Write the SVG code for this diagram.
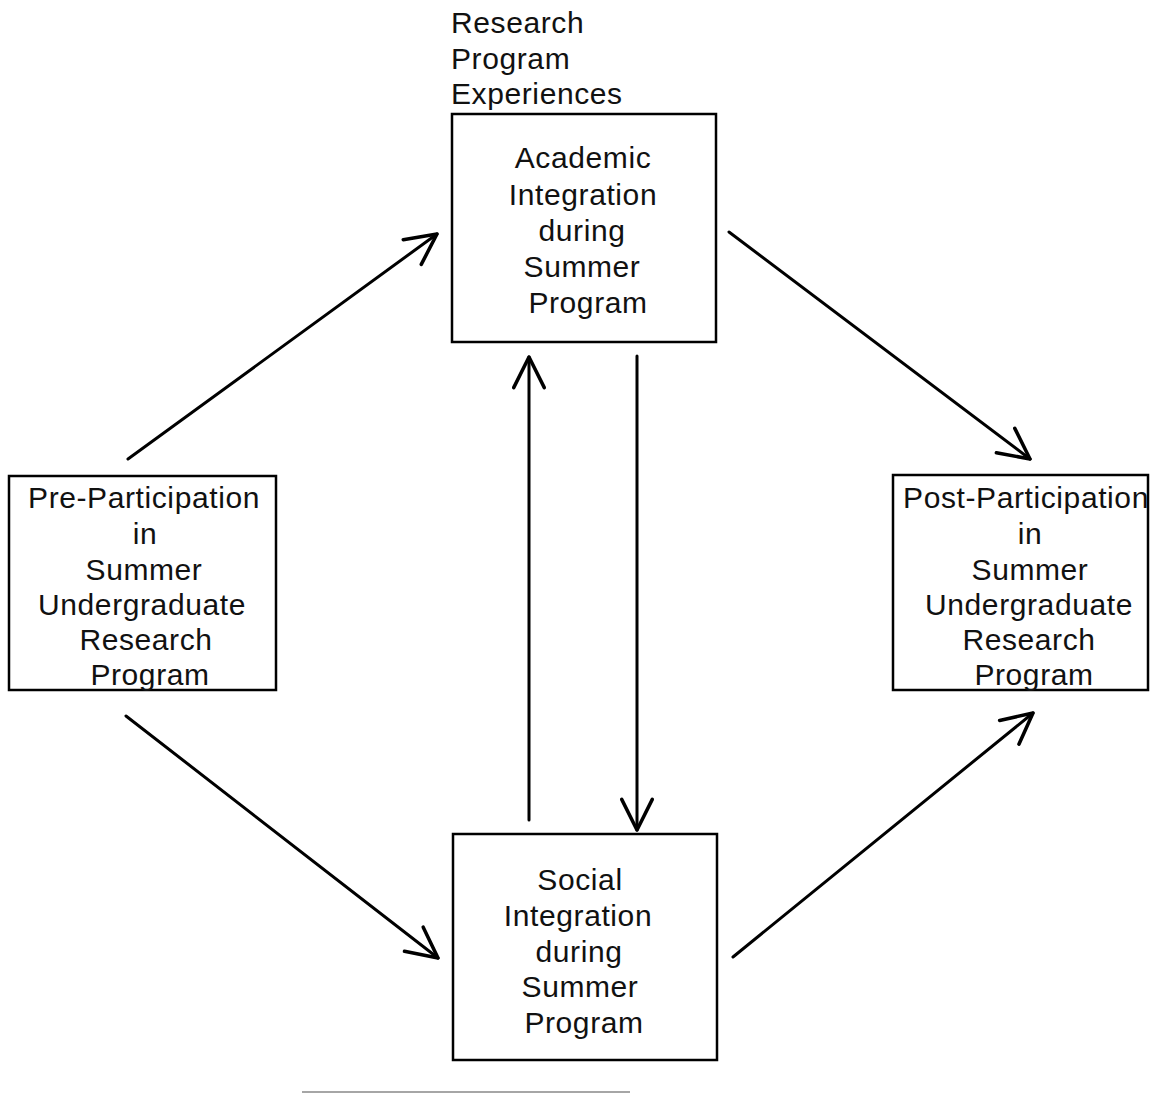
<svg xmlns="http://www.w3.org/2000/svg" width="1159" height="1093" viewBox="0 0 1159 1093">
<style>
.box{fill:#fff;stroke:#000;stroke-width:2.5}
.t{font-family:"Liberation Sans",Arial,sans-serif;font-size:30px;letter-spacing:0.6px;fill:#111;text-anchor:middle}
.lbl{font-family:"Liberation Sans",Arial,sans-serif;font-size:30px;letter-spacing:0.6px;fill:#111}
.c{stroke:#000;stroke-width:3;fill:none;stroke-linecap:round}
</style>
<defs>
<marker id="ah" markerUnits="userSpaceOnUse" markerWidth="40" markerHeight="40" viewBox="-30 -17 34 34" refX="0" refY="0" orient="auto">
<path d="M-26,-13 L0,0 L-26,13" fill="none" stroke="#000" stroke-width="3" stroke-linecap="round" stroke-linejoin="round"/>
</marker>
</defs>
<rect width="1159" height="1093" fill="#fff"/>
<g id="label-rpe">
<text class="lbl" x="451" y="33">Research</text>
<text class="lbl" x="451" y="69">Program</text>
<text class="lbl" x="451" y="104">Experiences</text>
</g>
<g id="academic">
<rect class="box" x="452" y="114" width="264" height="228"/>
<text class="t" x="583" y="168">Academic</text>
<text class="t" x="583" y="205">Integration</text>
<text class="t" x="582" y="241">during</text>
<text class="t" x="582" y="277">Summer</text>
<text class="t" x="588" y="313">Program</text>
</g>
<g id="pre">
<rect class="box" x="9" y="476" width="267" height="214"/>
<text class="t" x="144" y="508">Pre-Participation</text>
<text class="t" x="145" y="544">in</text>
<text class="t" x="144" y="580">Summer</text>
<text class="t" x="142" y="615">Undergraduate</text>
<text class="t" x="146" y="650">Research</text>
<text class="t" x="150" y="685">Program</text>
</g>
<g id="post">
<rect class="box" x="893" y="475" width="255" height="215"/>
<text class="t" x="1026" y="508">Post-Participation</text>
<text class="t" x="1030" y="544">in</text>
<text class="t" x="1030" y="580">Summer</text>
<text class="t" x="1029" y="615">Undergraduate</text>
<text class="t" x="1029" y="650">Research</text>
<text class="t" x="1034" y="685">Program</text>
</g>
<g id="social">
<rect class="box" x="453" y="834" width="264" height="226"/>
<text class="t" x="580" y="890">Social</text>
<text class="t" x="578" y="926">Integration</text>
<text class="t" x="579" y="962">during</text>
<text class="t" x="580" y="997">Summer</text>
<text class="t" x="584" y="1033">Program</text>
</g>
<g id="connectors">
<line class="c" x1="128" y1="459" x2="437" y2="234" marker-end="url(#ah)"/>
<line class="c" x1="729" y1="232" x2="1030" y2="459" marker-end="url(#ah)"/>
<line class="c" x1="126" y1="716" x2="438" y2="958" marker-end="url(#ah)"/>
<line class="c" x1="733" y1="957" x2="1033" y2="713" marker-end="url(#ah)"/>
<line class="c" x1="529" y1="820" x2="529" y2="357" marker-end="url(#ah)"/>
<line class="c" x1="637" y1="356" x2="637" y2="830" marker-end="url(#ah)"/>
</g>
<line x1="302" y1="1092" x2="630" y2="1092" stroke="#888" stroke-width="1.5"/>
</svg>
